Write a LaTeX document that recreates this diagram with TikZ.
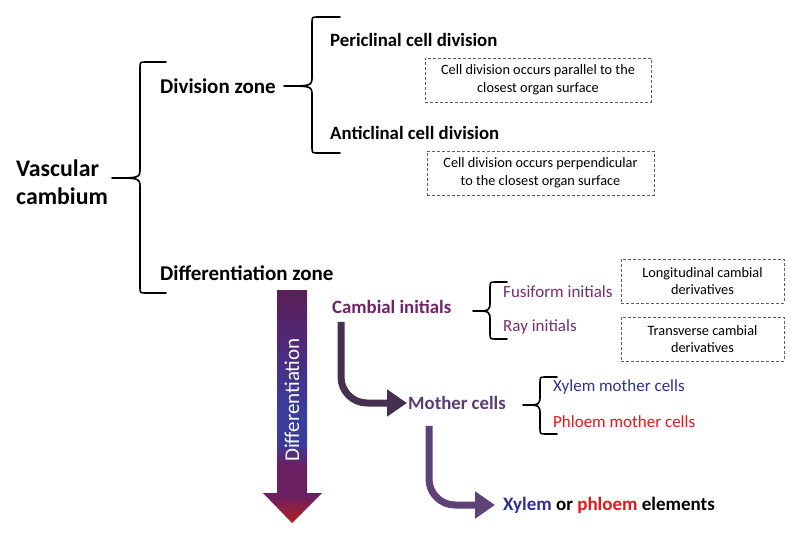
\documentclass[tikz,border=0pt]{standalone}
\usepackage{fontspec}
\setmainfont{Carlito}
\usetikzlibrary{arrows.meta, calc}

\definecolor{cambialpurple}{HTML}{6E2466}
\definecolor{initpurple}{HTML}{7A2C72}
\definecolor{motherpurple}{HTML}{5C3C72}
\definecolor{xylemblue}{HTML}{2E3192}
\definecolor{phloemred}{HTML}{E8151B}
\definecolor{arrowone}{HTML}{47304F}
\definecolor{arrowtwo}{HTML}{5D4177}
\definecolor{boxgray}{HTML}{606060}
\definecolor{gradtop}{HTML}{5A1F55}
\definecolor{gradmid}{HTML}{4E2A7E}
\definecolor{gradblue}{HTML}{3A3C9A}
\definecolor{gradpurple}{HTML}{6A2062}
\definecolor{gradred}{HTML}{B3201E}

% only 25bp..75bp is stretched over the path
\pgfdeclareverticalshading{diffshade}{100bp}{color(0bp)=(gradred); color(25bp)=(gradred); color(31bp)=(gradpurple); color(37.5bp)=(gradpurple); color(42bp)=(gradblue); color(50bp)=(gradblue); color(62bp)=(gradmid); color(75bp)=(gradtop); color(100bp)=(gradtop)}

% brace: tip x, spine x, end x, top y, mid y, bottom y
\newcommand{\curlybrace}[6]{%
  \draw[bracestyle] (#3,#4) -- (#2+6,#4) .. controls (#2,#4) .. (#2,#4+6)
    -- (#2,#5-10) .. controls (#2,#5) .. (#1,#5)
    .. controls (#2,#5) .. (#2,#5+10)
    -- (#2,#6-6) .. controls (#2,#6) .. (#2+6,#6) -- (#3,#6);}

\begin{document}
\begin{tikzpicture}[x=1pt, y=-1pt,
    lbl/.style={inner sep=0pt, anchor=west},
    vascularlbl/.style={lbl, font=\fontsize{23.8}{28}\selectfont\bfseries, align=left},
    zonelbl/.style={lbl, font=\fontsize{21}{24}\selectfont\bfseries},
    sublbl/.style={lbl, font=\fontsize{18.8}{22}\selectfont\bfseries},
    itemlbl/.style={lbl, font=\fontsize{17}{20}\selectfont},
    notebox/.style={draw=boxgray, dash pattern=on 3pt off 2pt, line width=0.8pt,
      font=\fontsize{14.3}{17.5}\selectfont, align=center, minimum height=44pt, inner sep=2pt},
    bracestyle/.style={line width=1.6pt, line cap=round, line join=round},
    flowarrow/.style={line width=7pt, rounded corners=26pt,
      -{Triangle[length=20pt,width=26pt]}}]
    \useasboundingbox (0,0) rectangle (800,544);

    % --- 1. main labels ---
    \node[vascularlbl] (vascular) at (16,182) {Vascular\\cambium};
    \node[zonelbl] (division) at (160,86) {Division zone};
    \node[zonelbl] (diffzone) at (160,273) {Differentiation zone};

    % --- 2. division zone ---
    \node[sublbl] (peri) at (330,40) {Periclinal cell division};
    \node[sublbl] (anti) at (330,133) {Anticlinal cell division};
    \node[notebox, minimum width=226pt] (perinote) at (538,80)
      {Cell division occurs parallel to the\\closest organ surface};
    \node[notebox, minimum width=227pt] (antinote) at (540.5,173)
      {Cell division occurs perpendicular\\to the closest organ surface};

    % --- 3. differentiation zone ---
    \node[sublbl, text=cambialpurple] (cambial) at (332,307) {Cambial initials};
    \node[itemlbl, text=initpurple] (fusiform) at (503,292) {Fusiform initials};
    \node[itemlbl, text=initpurple] (ray) at (503,327) {Ray initials};
    \node[notebox, minimum width=163pt] (longnote) at (702.5,281)
      {Longitudinal cambial\\derivatives};
    \node[notebox, minimum width=163pt] (transnote) at (702.5,339)
      {Transverse cambial\\derivatives};

    \node[sublbl, text=motherpurple] (mother) at (408,403) {Mother cells};
    \node[itemlbl, text=xylemblue] (xmother) at (553,387) {Xylem mother cells};
    \node[itemlbl, text=phloemred] (pmother) at (553,422) {Phloem mother cells};

    \node[lbl, font=\fontsize{19}{22}\selectfont\bfseries] (elements) at (503,505)
      {\textcolor{xylemblue}{Xylem} or \textcolor{phloemred}{phloem} elements};

    % --- 4. braces ---
    \curlybrace{112}{140}{166}{62}{178}{293}
    \curlybrace{284}{312}{340}{17}{86}{153}
    \curlybrace{473}{490}{507}{282}{311}{339}
    \curlybrace{523}{540}{557}{377}{405}{434}

    % --- 5. differentiation arrow ---
    \shade[shading=diffshade] (277,290) -- (307,290) -- (307,493) -- (322,493)
      -- (292,523) -- (263,493) -- (277,493) -- cycle;
    \node[rotate=90, text=white, inner sep=0pt, font=\fontsize{21}{24}\selectfont]
      (difflbl) at (292,400) {Differentiation};

    % --- 6. flow arrows ---
    \draw[flowarrow, arrowone] ([xshift=9pt, yshift=-8pt]cambial.south west)
      |- ([xshift=-1pt]mother.west);
    \draw[flowarrow, arrowtwo] ([xshift=21pt, yshift=-16pt]mother.south west)
      |- ([xshift=-8pt]elements.west);
\end{tikzpicture}
\end{document}
